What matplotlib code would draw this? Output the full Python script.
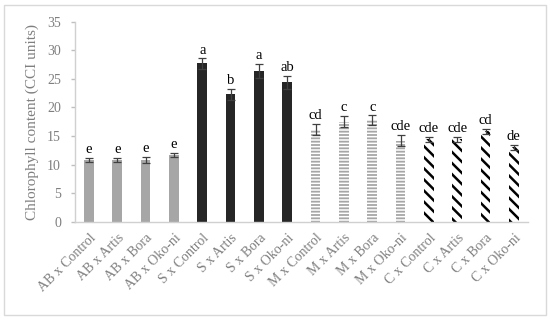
import matplotlib.pyplot as plt
import matplotlib.patches as mpatches

plt.rcParams['font.family'] = ['Liberation Serif', 'DejaVu Serif']

categories = ['AB x Control', 'AB x Artis', 'AB x Bora', 'AB x Oko-ni',
              'S x Control', 'S x Artis', 'S x Bora', 'S x Oko-ni',
              'M x Control', 'M x Artis', 'M x Bora', 'M x Oko-ni',
              'C x Control', 'C x Artis', 'C x Bora', 'C x Oko-ni']
values = [10.8, 10.8, 10.8, 11.7,
          27.7, 22.3, 26.4, 24.4,
          16.1, 17.5, 17.8, 14.2,
          14.4, 14.4, 15.8, 13.0]
errors = [0.4, 0.4, 0.5, 0.4,
          0.9, 1.0, 1.2, 1.1,
          1.0, 1.0, 0.8, 1.0,
          0.5, 0.5, 0.5, 0.5]
letters = ['e', 'e', 'e', 'e',
           'a', 'b', 'a', 'ab',
           'cd', 'c', 'c', 'cde',
           'cde', 'cde', 'cd', 'de']

fig = plt.figure(figsize=(5.5, 3.2), dpi=100)
ax = fig.add_axes([0.136, 0.307, 0.824, 0.625])

x = list(range(len(categories)))
for i in x:
    group = i // 4
    if group == 0:
        bars = ax.bar(i, values[i], width=0.34, color='#a6a6a6')
    elif group == 1:
        bars = ax.bar(i, values[i], width=0.34, color='#262626')
    elif group == 2:
        bars = ax.bar(i, values[i], width=0.34, color='white', edgecolor='#a6a6a6',
                      hatch='-----', linewidth=0)
        for b in bars:
            if hasattr(b, 'set_hatch_linewidth'):
                b.set_hatch_linewidth(1.3)
    else:
        bars = ax.bar(i, values[i], width=0.34, color='white', edgecolor='black',
                      hatch='\\\\\\', linewidth=0)
        for b in bars:
            if hasattr(b, 'set_hatch_linewidth'):
                b.set_hatch_linewidth(1.8)
    ax.errorbar(i, values[i], yerr=errors[i], fmt='none', ecolor='#404040',
                elinewidth=0.9, capsize=3, capthick=0.9)
    ax.text(i, values[i] + errors[i] + 0.3, letters[i], ha='center', va='bottom',
            fontsize=10.5, color='black')

ax.set_xlim(-0.5, len(categories) - 0.5)
ax.set_ylim(0, 35)
ax.set_yticks(range(0, 36, 5))
ax.set_xticks(x)
ax.set_xticklabels(categories, rotation=45, ha='right', rotation_mode='anchor',
                   fontsize=10, color='#7f7f7f')
ax.tick_params(axis='y', labelsize=10, labelcolor='#7f7f7f', color='#bfbfbf',
               length=3, width=1, pad=7)
ax.tick_params(axis='x', length=0, pad=7)
ax.set_ylabel('Chlorophyll content (CCI units)', fontsize=11, color='#7f7f7f',
              labelpad=6)

for side in ['top', 'right']:
    ax.spines[side].set_visible(False)
for side in ['left', 'bottom']:
    ax.spines[side].set_color('#d0d0d0')
    ax.spines[side].set_linewidth(1)

border = mpatches.Rectangle((0.008, 0.015), 0.984, 0.97, transform=fig.transFigure,
                            fill=False, edgecolor='#d9d9d9', linewidth=1)
fig.patches.append(border)

fig.savefig('out.png', dpi=100)
